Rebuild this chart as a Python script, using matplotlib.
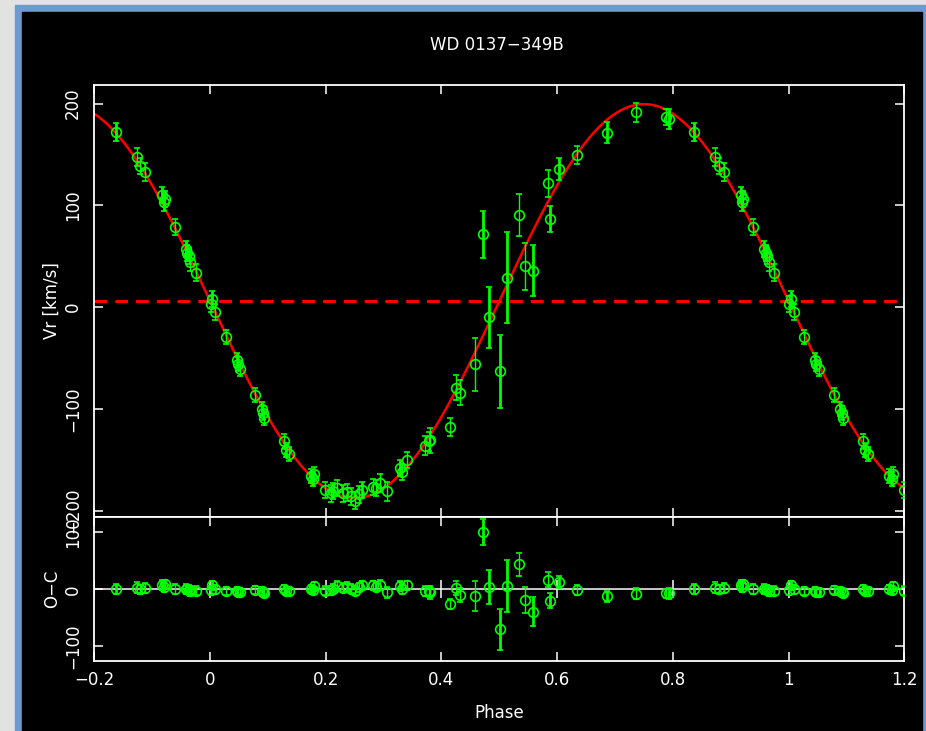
import matplotlib.pyplot as plt
from matplotlib.patches import Rectangle
import numpy as np

# folded radial velocities of the companion, phase in [0, 1)
phase = np.array([
    0.001, 0.004, 0.009, 0.027, 0.046, 0.048, 0.052, 0.078, 0.089, 0.092,
    0.094, 0.128, 0.132, 0.137, 0.174, 0.178, 0.180, 0.199, 0.209, 0.213,
    0.219, 0.229, 0.236, 0.243, 0.251, 0.258, 0.262, 0.281, 0.287, 0.294,
    0.306, 0.329, 0.332, 0.340, 0.372, 0.378, 0.381, 0.415, 0.425, 0.432,
    0.458, 0.471, 0.483, 0.501, 0.514, 0.534, 0.544, 0.558, 0.585, 0.587,
    0.603, 0.635, 0.686, 0.736, 0.788, 0.794, 0.837, 0.873, 0.879, 0.888,
    0.917, 0.920, 0.922, 0.939, 0.958, 0.961, 0.963, 0.966, 0.975,
])
vr = np.array([
    3, 8, -5, -29, -52, -56, -61, -86, -100, -104,
    -109, -132, -140, -144, -166, -169, -164, -180, -183, -181,
    -178, -183, -182, -186, -190, -184, -180, -177, -178, -173,
    -181, -158, -162, -150, -136, -132, -131, -118, -79, -84,
    -56, 71.5, -10, -63, 29, 90.5, 40, 36, 121.6, 86.5,
    135.7, 149.5, 171.5, 191.4, 187, 185, 172, 147.5, 139, 133,
    110, 103, 106, 79, 57, 53, 50, 44, 34,
])
err = np.array([
    8, 8, 8, 7, 7, 7, 7, 7, 7, 7,
    7, 7, 7, 7, 7, 7, 7, 8, 8, 8,
    8, 8, 8, 8, 8, 8, 8, 8, 8, 9,
    9, 8, 8, 8, 9, 9, 12, 9, 12, 12,
    26, 23, 30, 36, 45, 20.5, 23, 25.5, 13, 13,
    11, 9, 10, 9, 8, 10, 9, 9, 8, 9,
    8, 9, 8, 8, 8, 8, 8, 8, 8,
])
# spectra drawn with heavy error bars
heavy = np.array([
    0, 1, 0, 0, 1, 0, 0, 0, 1, 0,
    0, 0, 1, 0, 1, 1, 0, 0, 0, 1,
    0, 0, 0, 0, 0, 0, 1, 0, 0, 0,
    0, 1, 0, 0, 0, 0, 0, 0, 0, 0,
    0, 1, 1, 1, 1, 0, 0, 1, 0, 1,
    1, 0, 1, 0, 0, 1, 1, 0, 0, 0,
    1, 1, 0, 0, 1, 1, 0, 0, 0,
], dtype=bool)

# sine fit
gamma = 6.0
k_amp = 193.5

xticks = [-0.2, 0, 0.2, 0.4, 0.6, 0.8, 1, 1.2]
xticklabels = ["\u22120.2", "0", "0.2", "0.4", "0.6", "0.8", "1", "1.2"]
vr_ticks = [-200, -100, 0, 100, 200]
oc_ticks = [-100, 0, 100]

GREEN = "#00ff00"
RED = "#ff0000"
W, H = 926, 731


def orbit(p):
    return gamma - k_amp * np.sin(2 * np.pi * p)


def wrap(a):
    # repeat the ends of the cycle so the plot runs from -0.2 to 1.2
    lo = phase >= 0.8
    hi = phase < 0.2
    return np.concatenate([a, a[lo], a[hi]])


def style_axes(ax):
    ax.set_facecolor("black")
    for s in ax.spines.values():
        s.set_color("white")
        s.set_linewidth(1.3)
    ax.set_xlim(-0.2, 1.2)
    ax.set_xticks(xticks)
    ax.tick_params(direction="in", length=6.5, width=1.1, colors="white",
                   top=True, right=True, labelsize=12)
    ax.tick_params(axis="y", labelrotation=90, pad=9)
    ax.tick_params(axis="x", pad=7)


def main():
    fig = plt.figure(figsize=(W / 100, H / 100), dpi=100)
    fig.patch.set_facecolor("#e2e2e2")
    fig.add_artist(Rectangle((15 / W, 0), 1, 1 - 5 / H, transform=fig.transFigure,
                             color="#6d9bd1", zorder=-3))
    fig.add_artist(Rectangle((22 / W, 0), (922 - 22) / W, 1 - 12 / H,
                             transform=fig.transFigure, color="black", zorder=-2))

    ax1 = fig.add_axes([94.3 / W, 1 - 517.3 / H, 810 / W, 432 / H])
    ax2 = fig.add_axes([94.3 / W, 1 - 661.3 / H, 810 / W, 144 / H])

    ph = wrap(phase) + np.concatenate([np.zeros(len(phase)),
                                       -np.ones((phase >= 0.8).sum()),
                                       np.ones((phase < 0.2).sum())])
    v = wrap(vr)
    e = wrap(err)
    hv = wrap(heavy)
    oc = v - orbit(ph)

    # upper panel: velocities with the fitted orbit
    style_axes(ax1)
    xx = np.linspace(-0.2, 1.2, 600)
    ax1.plot(xx, orbit(xx), color=RED, lw=1.8, zorder=2)
    ax1.axhline(gamma, color=RED, lw=2.2, ls=(0, (4.2, 2.6)), zorder=2)
    ax1.set_ylim(-206.5, 218)
    ax1.set_yticks(vr_ticks)
    ax1.set_yticklabels(["\u2212200", "\u2212100", "0", "100", "200"])
    ax1.tick_params(axis="x", labelbottom=False)

    # lower panel: residuals
    style_axes(ax2)
    ax2.axhline(0, color="#d8d8d8", lw=1.3, zorder=1)
    ax2.plot(xticks, np.zeros(len(xticks)), ls="none", marker="|", ms=13,
             mew=1.1, color="white", zorder=1)
    ax2.set_ylim(-126, 126)
    ax2.set_yticks(oc_ticks)
    ax2.set_yticklabels(["\u2212100", "0", "100"])
    ax2.set_xticklabels(xticklabels)

    for ax, y in ((ax1, v), (ax2, oc)):
        for sel, lw in ((~hv, 1.0), (hv, 2.0)):
            ax.errorbar(ph[sel], y[sel], yerr=e[sel], fmt="o", mfc="none",
                        mec=GREEN, ecolor=GREEN, ms=7, mew=1.2, elinewidth=lw,
                        capsize=2.5, capthick=lw, zorder=3)
        for lbl in ax.get_yticklabels():
            lbl.set_verticalalignment("center")

    fig.text(497 / W, 1 - 45 / H, "WD 0137\u2212349B", color="white",
             fontsize=12, ha="center", va="center")
    fig.text(52 / W, 1 - 301 / H, "Vr [km/s]", color="white", fontsize=12,
             rotation=90, ha="center", va="center")
    fig.text(52 / W, 1 - 589 / H, "O\u2212C", color="white", fontsize=12,
             rotation=90, ha="center", va="center")
    fig.text(499 / W, 1 - 713 / H, "Phase", color="white", fontsize=12,
             ha="center", va="center")

    fig.savefig("out.png", dpi=100, facecolor=fig.get_facecolor())


if __name__ == "__main__":
    main()
